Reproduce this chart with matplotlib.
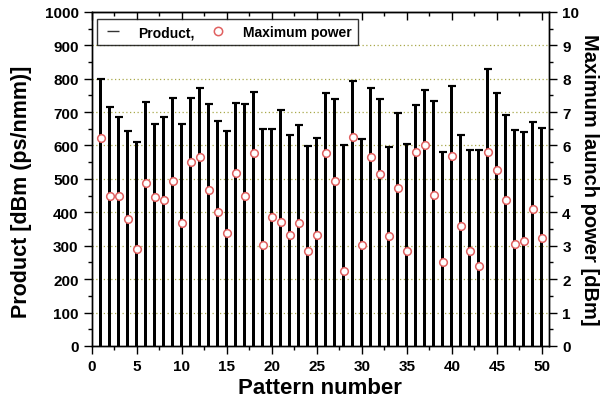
import numpy as np
import matplotlib
matplotlib.use('Agg')
import matplotlib.pyplot as plt
from matplotlib.lines import Line2D
from matplotlib.ticker import MultipleLocator

# 数据: 图案编号、乘积、最大发射功率
pattern = np.arange(1, 51)
product = [799, 715, 686, 644, 610, 731, 664, 686, 742, 664,
           742, 771, 725, 674, 644, 727, 725, 761, 648, 648,
           707, 630, 662, 598, 622, 757, 739, 602, 793, 620,
           771, 739, 596, 698, 605, 722, 765, 734, 581, 777,
           630, 587, 585, 829, 757, 692, 645, 640, 670, 652]
max_power = [6.22, 4.49, 4.49, 3.81, 2.89, 4.88, 4.45, 4.36, 4.95, 3.67,
             5.51, 5.65, 4.68, 4.01, 3.37, 5.19, 4.48, 5.78, 3.01, 3.85,
             3.72, 3.31, 3.67, 2.84, 3.33, 5.79, 4.94, 2.25, 6.24, 3.01,
             5.65, 5.14, 3.28, 4.72, 2.84, 5.81, 6.02, 4.52, 2.52, 5.70,
             3.59, 2.84, 2.40, 5.81, 5.26, 4.37, 3.05, 3.15, 4.11, 3.22]

plt.rcParams['font.family'] = ['Liberation Sans', 'DejaVu Sans']
plt.rcParams['font.weight'] = 'bold'

fig = plt.figure(figsize=(6, 4.02), dpi=100)
ax = fig.add_axes([0.153, 0.137, 0.762, 0.831])

# 柱状图 + 顶部短横线
ax.bar(pattern, product, width=0.37, color='black', zorder=2)
ax.errorbar(pattern, product, yerr=0, fmt='none', ecolor='black',
            capsize=2.8, capthick=1.5, zorder=3)

ax.set_xlim(0, 50.8)
ax.set_ylim(0, 1000)
ax.xaxis.set_major_locator(MultipleLocator(5))
ax.xaxis.set_minor_locator(MultipleLocator(2.5))
ax.yaxis.set_major_locator(MultipleLocator(100))
ax.yaxis.set_minor_locator(MultipleLocator(50))
ax.tick_params(axis='both', which='major', labelsize=11, width=1, length=6, direction='out')
ax.tick_params(axis='both', which='minor', width=1, length=3, direction='out')
for t in ax.get_xticklabels() + ax.get_yticklabels():
    t.set_fontweight('bold')

# 顶部刻度朝内
top = ax.secondary_xaxis('top')
top.xaxis.set_major_locator(MultipleLocator(5))
top.xaxis.set_minor_locator(MultipleLocator(2.5))
top.tick_params(which='major', direction='in', length=6, width=1, labeltop=False)
top.tick_params(which='minor', direction='in', length=3, width=1)

# 网格线 (虚点)
for yv in range(100, 1000, 100):
    ax.axhline(yv, color='#a8a84a', linestyle=(0, (1, 2)), linewidth=0.9, zorder=1)

ax.set_xlabel('Pattern number', fontsize=16, fontweight='bold', labelpad=3)
ax.set_ylabel('Product [dBm (ps/nmm)]', fontsize=15.5, fontweight='bold')
ax.yaxis.set_label_coords(-0.13, 0.465)

# 右侧坐标轴
ax2 = ax.twinx()
ax2.plot(pattern, max_power, linestyle='none', marker='o', markersize=5.5,
         markerfacecolor='white', markeredgecolor='#e06060', markeredgewidth=1.1, zorder=4)
ax2.set_ylim(0, 10)
ax2.yaxis.set_major_locator(MultipleLocator(1))
ax2.yaxis.set_minor_locator(MultipleLocator(0.5))
ax2.tick_params(axis='y', which='major', labelsize=11, width=1, length=6, direction='out')
ax2.tick_params(axis='y', which='minor', width=1, length=3, direction='out')
for t in ax2.get_yticklabels():
    t.set_fontweight('bold')
ax2.set_ylabel('Maximum launch power [dBm]', fontsize=14.5, fontweight='bold',
               rotation=270, labelpad=14)

for a in (ax, ax2):
    for s in a.spines.values():
        s.set_linewidth(1.0)

# 图例
handles = [Line2D([], [], color='#333333', marker='_', linestyle='none', markersize=8, markeredgewidth=1),
           Line2D([], [], linestyle='none', marker='o', markersize=6,
                  markerfacecolor='white', markeredgecolor='#e06060', markeredgewidth=1.1)]
leg = ax2.legend(handles, ['Product,', 'Maximum power'], ncol=2, loc='upper left',
                 bbox_to_anchor=(0.011, 0.979), borderaxespad=0, frameon=True, fancybox=False,
                 edgecolor='black', handlelength=1.4, handletextpad=1.1, columnspacing=1.0,
                 borderpad=0.45, prop={'weight': 'bold', 'size': 10})
leg.get_frame().set_linewidth(1.0)

fig.savefig('out.png', dpi=100)
